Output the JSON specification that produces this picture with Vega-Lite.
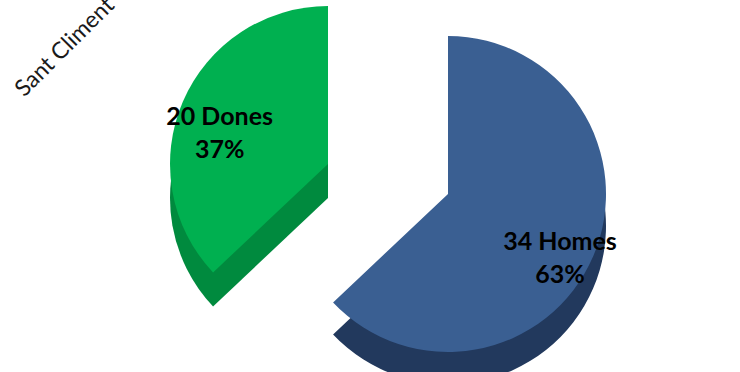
{
  "$schema": "https://vega.github.io/schema/vega-lite/v6.json",
  "width": 740,
  "height": 372,
  "autosize": "none",
  "padding": 0,
  "background": "white",
  "config": {"view": {"stroke": null}},
  "data": {
    "values": [
      {"genere": "Homes", "n": 34, "pct": 63, "lloc": "Sant Climent de Llobregat"},
      {"genere": "Dones", "n": 20, "pct": 37, "lloc": "Sant Climent de Llobregat"}
    ]
  },
  "transform": [
    {"stack": "n", "groupby": [], "sort": [{"field": "genere", "order": "descending"}], "as": ["t0", "t1"]},
    {"calculate": "(datum.t0 + datum.t1) / 2", "as": "mid"},
    {"calculate": "datum.n + ' ' + datum.genere + '|' + datum.pct + '%'", "as": "lab"}
  ],
  "layer": [
    {
      "transform": [{"filter": "datum.genere == 'Homes'"}],
      "mark": {"type": "arc", "radius": 158, "color": "#22395d", "xOffset": 78, "yOffset": 40},
      "encoding": {
        "theta": {"field": "t0", "type": "quantitative", "scale": {"domain": [0, 54]}},
        "theta2": {"field": "t1"}
      }
    },
    {
      "transform": [{"filter": "datum.genere == 'Homes'"}],
      "mark": {"type": "arc", "radius": 158, "color": "#3a5f92", "xOffset": 78, "yOffset": 8},
      "encoding": {
        "theta": {"field": "t0", "type": "quantitative", "scale": {"domain": [0, 54]}},
        "theta2": {"field": "t1"}
      }
    },
    {
      "transform": [{"filter": "datum.genere == 'Dones'"}],
      "mark": {"type": "arc", "radius": 158, "color": "#008a3e", "xOffset": -42, "yOffset": 12},
      "encoding": {
        "theta": {"field": "t0", "type": "quantitative", "scale": {"domain": [0, 54]}},
        "theta2": {"field": "t1"}
      }
    },
    {
      "transform": [{"filter": "datum.genere == 'Dones'"}],
      "mark": {"type": "arc", "radius": 158, "color": "#00b050", "xOffset": -42, "yOffset": -22},
      "encoding": {
        "theta": {"field": "t0", "type": "quantitative", "scale": {"domain": [0, 54]}},
        "theta2": {"field": "t1"}
      }
    },
    {
      "transform": [{"filter": "datum.genere == 'Homes'"}],
      "mark": {"type": "text", "radius": 122, "xOffset": 78, "yOffset": 8, "font": "Lato", "fontSize": 25, "fontWeight": "bold", "color": "black", "lineBreak": "|", "align": "center", "baseline": "middle", "lineHeight": 33},
      "encoding": {
        "theta": {"field": "mid", "type": "quantitative", "scale": {"domain": [0, 54]}},
        "text": {"field": "lab"}
      }
    },
    {
      "transform": [{"filter": "datum.genere == 'Dones'"}],
      "mark": {"type": "text", "radius": 118, "xOffset": -42, "yOffset": -22, "font": "Lato", "fontSize": 25, "fontWeight": "bold", "color": "black", "lineBreak": "|", "align": "center", "baseline": "middle", "lineHeight": 33},
      "encoding": {
        "theta": {"field": "mid", "type": "quantitative", "scale": {"domain": [0, 54]}},
        "text": {"field": "lab"}
      }
    },
    {
      "transform": [{"filter": "datum.genere == 'Dones'"}],
      "mark": {"type": "text", "radius": 200, "xOffset": -162, "yOffset": -9, "angle": 315, "font": "Lato", "fontSize": 23, "color": "#1a1a1a", "align": "left", "baseline": "alphabetic"},
      "encoding": {
        "theta": {"field": "mid", "type": "quantitative", "scale": {"domain": [0, 54]}},
        "text": {"field": "lloc"}
      }
    }
  ]
}
